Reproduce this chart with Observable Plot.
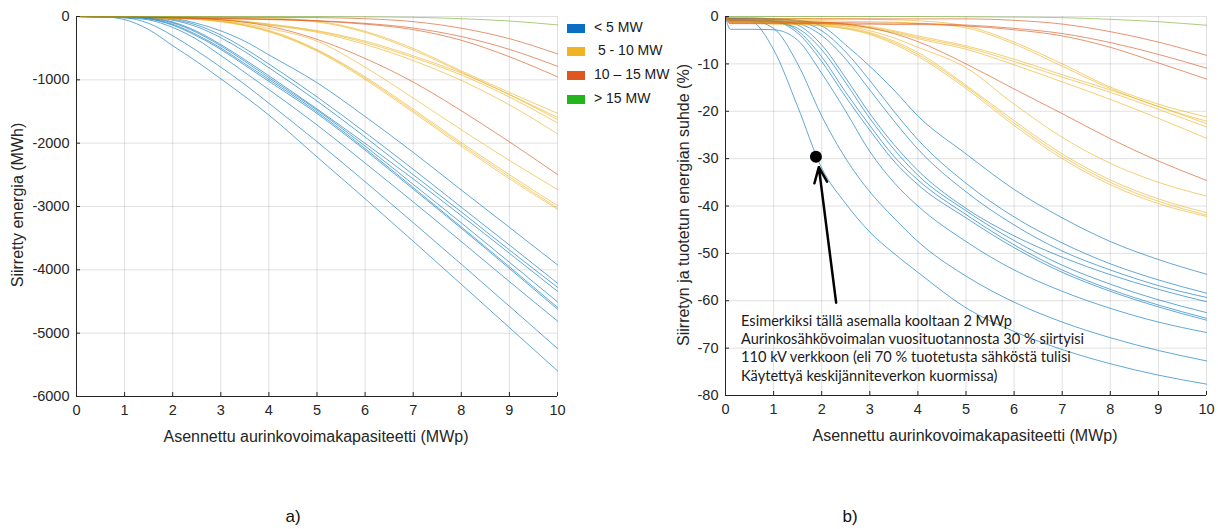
<!DOCTYPE html>
<html><head><meta charset="utf-8">
<script src="https://cdn.jsdelivr.net/npm/d3@7"></script>
<script src="https://cdn.jsdelivr.net/npm/@observablehq/plot@0.6"></script>
<style>
html,body{margin:0;padding:0;background:#fff;}
#root{position:relative;width:1218px;height:529px;overflow:hidden;font-family:"Liberation Sans",Arial,sans-serif;color:#262626;}
#root svg{position:absolute;top:0;}
.ylab{position:absolute;transform:translate(-50%,-50%) rotate(-90deg);white-space:nowrap;font-size:16px;}
.xlab{position:absolute;transform:translate(-50%,-50%);white-space:nowrap;font-size:16px;}
.sw{position:absolute;width:18px;height:9px;}
.lg{position:absolute;white-space:pre;font-size:14px;transform:translateY(-50%);color:#1a1a1a;}
.note{position:absolute;left:741px;top:312px;font-family:Lato,"Noto Sans",sans-serif;font-size:14.6px;line-height:18.2px;color:#1a1a1a;white-space:nowrap;}
.pl{position:absolute;transform:translate(-50%,-50%);font-size:17px;color:#111;}
</style></head><body><div id="root"></div>
<script>
// ---- data ----
const capacity = [0, 0.1, 0.5, 1, 1.5, 2, 2.5, 3, 3.5, 4, 5, 6, 7, 8, 9, 10]; // MWp
const xTicks = [0,1,2,3,4,5,6,7,8,9,10];
const energyTicks = [-6000,-5000,-4000,-3000,-2000,-1000,0];
const ratioTicks = [-80,-70,-60,-50,-40,-30,-20,-10,0];
const groups = ["< 5 MW", " 5 - 10 MW", "10 \u2013 15 MW", "> 15 MW"];
const lineColors = ["#0072BD", "#EDB120", "#D95319", "#77AC30"];
const swatchColors = ["#0A6FC2", "#F2B323", "#E0561F", "#22B51C"];

// Siirretty energia (MWh)
const energyUnder5 = [
 [0,-1,-3,-50,-206,-461,-712,-984,-1262,-1557,-2217,-2877,-3548,-4228,-4912,-5595],
 [0,-1,-3,-18,-108,-303,-541,-800,-1073,-1370,-1976,-2609,-3255,-3911,-4575,-5242],
 [0,-2,-10,-20,-54,-173,-361,-616,-883,-1154,-1712,-2314,-2927,-3553,-4185,-4809],
 [0,0,-3,-7,-38,-137,-307,-519,-770,-1024,-1532,-2111,-2725,-3345,-3978,-4622],
 [0,0,-2,-6,-32,-123,-288,-497,-745,-995,-1507,-2085,-2700,-3322,-3952,-4593],
 [0,-1,-4,-9,-27,-101,-252,-465,-707,-966,-1478,-2046,-2650,-3259,-3880,-4506],
 [0,0,-2,-5,-19,-87,-234,-443,-681,-937,-1460,-2003,-2564,-3144,-3738,-4340],
 [0,-1,-3,-7,-16,-58,-162,-335,-555,-808,-1334,-1903,-2498,-3086,-3686,-4276],
 [0,0,-2,-4,-11,-43,-135,-292,-505,-750,-1269,-1830,-2412,-3011,-3608,-4211],
 [0,0,-1,-4,-9,-29,-108,-227,-391,-606,-1045,-1579,-2145,-2740,-3329,-3922]
];
const energy5to10 = [
 [0,0,-1,-3,-4,-7,-9,-13,-18,-26,-72,-234,-505,-859,-1200,-1529],
 [0,0,-2,-5,-9,-13,-18,-24,-30,-40,-87,-251,-530,-877,-1233,-1593],
 [0,-1,-3,-6,-11,-17,-27,-45,-76,-118,-224,-389,-621,-894,-1233,-1629],
 [0,-1,-4,-8,-13,-20,-31,-50,-81,-127,-234,-411,-646,-923,-1272,-1680],
 [0,-1,-4,-9,-15,-23,-34,-54,-86,-136,-249,-441,-696,-1009,-1395,-1853],
 [0,-1,-4,-8,-13,-22,-36,-65,-114,-187,-389,-800,-1287,-1788,-2271,-2733],
 [0,-1,-4,-9,-15,-25,-41,-74,-131,-219,-523,-952,-1464,-1990,-2498,-2985],
 [0,-1,-5,-11,-17,-27,-45,-78,-139,-231,-534,-973,-1489,-2019,-2531,-3021],
 [0,-1,-5,-12,-18,-29,-47,-82,-146,-242,-548,-995,-1514,-2048,-2563,-3043]
];
const energy10to15 = [
 [0,0,-2,-4,-5,-7,-9,-11,-13,-14,-18,-35,-81,-185,-350,-591],
 [0,-1,-4,-9,-14,-19,-23,-30,-35,-43,-65,-108,-182,-317,-519,-786],
 [0,-1,-5,-11,-16,-22,-29,-35,-43,-49,-72,-121,-207,-375,-636,-952],
 [0,-1,-3,-7,-11,-17,-29,-52,-91,-153,-361,-662,-1035,-1488,-1979,-2495]
];
const energyOver15 = [
 [0,0,0,0,0,0,0,0,0,0,-2,-5,-13,-35,-71,-133]
];

// Siirretyn ja tuotetun energian suhde (%)
const ratioUnder5 = [
 [0,-0.8,-0.9,-7,-19,-32,-39.5,-45.5,-50,-54,-61.5,-66.5,-70.3,-73.3,-75.7,-77.6],
 [0,-0.7,-0.8,-2.5,-10,-21,-30,-37,-42.5,-47.5,-54.8,-60.3,-64.5,-67.8,-70.5,-72.7],
 [0,-2.7,-2.7,-2.8,-5,-12,-20,-28.5,-35,-40,-47.5,-53.5,-58,-61.6,-64.5,-66.7],
 [0,-0.6,-0.7,-1,-3.5,-9.5,-17,-24,-30.5,-35.5,-42.5,-48.8,-54,-58,-61.3,-64.1],
 [0,-0.5,-0.6,-0.9,-3,-8.5,-16,-23,-29.5,-34.5,-41.8,-48.2,-53.5,-57.6,-60.9,-63.7],
 [0,-1,-1,-1.2,-2.5,-7,-14,-21.5,-28,-33.5,-41,-47.3,-52.5,-56.5,-59.8,-62.5],
 [0,-0.5,-0.5,-0.7,-1.8,-6,-13,-20.5,-27,-32.5,-40.5,-46.3,-50.8,-54.5,-57.6,-60.2],
 [0,-0.8,-0.8,-1,-1.5,-4,-9,-15.5,-22,-28,-37,-44,-49.5,-53.5,-56.8,-59.3],
 [0,-0.4,-0.5,-0.6,-1,-3,-7.5,-13.5,-20,-26,-35.2,-42.3,-47.8,-52.2,-55.6,-58.4],
 [0,-0.3,-0.3,-0.5,-0.8,-2,-6,-10.5,-15.5,-21,-29,-36.5,-42.5,-47.5,-51.3,-54.4]
];
const ratio5to10 = [
 [0,-0.3,-0.3,-0.4,-0.4,-0.5,-0.5,-0.6,-0.7,-0.9,-2.0,-5.4,-10,-14.9,-18.5,-21.2],
 [0,-0.6,-0.6,-0.7,-0.8,-0.9,-1.0,-1.1,-1.2,-1.4,-2.4,-5.8,-10.5,-15.2,-19,-22.1],
 [0,-0.8,-0.8,-0.9,-1.0,-1.2,-1.5,-2.1,-3.0,-4.1,-6.2,-9.0,-12.3,-15.5,-19,-22.6],
 [0,-1.0,-1.0,-1.1,-1.2,-1.4,-1.7,-2.3,-3.2,-4.4,-6.5,-9.5,-12.8,-16.0,-19.6,-23.3],
 [0,-1.2,-1.2,-1.3,-1.4,-1.6,-1.9,-2.5,-3.4,-4.7,-6.9,-10.2,-13.8,-17.5,-21.5,-25.7],
 [0,-1.0,-1.0,-1.1,-1.2,-1.5,-2.0,-3.0,-4.5,-6.5,-10.8,-18.5,-25.5,-31,-35,-37.9],
 [0,-1.2,-1.2,-1.3,-1.4,-1.7,-2.3,-3.4,-5.2,-7.6,-14.5,-22,-29,-34.5,-38.5,-41.4],
 [0,-1.4,-1.4,-1.5,-1.6,-1.9,-2.5,-3.6,-5.5,-8.0,-14.8,-22.5,-29.5,-35,-39,-41.9],
 [0,-1.5,-1.5,-1.6,-1.7,-2.0,-2.6,-3.8,-5.8,-8.4,-15.2,-23,-30,-35.5,-39.5,-42.2]
];
const ratio10to15 = [
 [0,-0.5,-0.5,-0.5,-0.5,-0.5,-0.5,-0.5,-0.5,-0.5,-0.5,-0.8,-1.6,-3.2,-5.4,-8.2],
 [0,-1.2,-1.2,-1.2,-1.3,-1.3,-1.3,-1.4,-1.4,-1.5,-1.8,-2.5,-3.6,-5.5,-8.0,-10.9],
 [0,-1.5,-1.5,-1.5,-1.5,-1.5,-1.6,-1.6,-1.7,-1.7,-2.0,-2.8,-4.1,-6.5,-9.8,-13.2],
 [0,-0.9,-0.9,-1.0,-1.0,-1.2,-1.6,-2.4,-3.6,-5.3,-10,-15.3,-20.5,-25.8,-30.5,-34.6]
];
const ratioOver15 = [
 [0,0,0,0,0,0,0,0,0,0,-0.05,-0.12,-0.25,-0.6,-1.1,-1.85]
];

// example annotation (MWp, %)
const examplePoint = [{x: 1.88, y: -29.6}];
const exampleArrow = [{x1: 2.30, y1: -60.4, x2: 1.94, y2: -31.8}];
const noteLines = [
 "Esimerkiksi tällä asemalla kooltaan 2 MWp",
 "Aurinkosähkövoimalan vuosituotannosta 30 % siirtyisi",
 "110 kV verkkoon (eli 70 % tuotetusta sähköstä tulisi",
 "Käytettyä keskijänniteverkon kuormissa)"
];

// ---- build ----
function toRows(listByGroup) {
  const rows = [];
  listByGroup.forEach((list, g) => list.forEach((vals, i) => vals.forEach((v, j) =>
    rows.push({x: capacity[j], y: v, g, id: g + "-" + i, color: lineColors[g]}))));
  return rows;
}
const energyRows = toRows([energyUnder5, energy5to10, energy10to15, energyOver15]);
const ratioRows = toRows([ratioUnder5, ratio5to10, ratio10to15, ratioOver15]);

function panel(rows, yTicks, o, extra) {
  const xDom = [xTicks[0], xTicks[xTicks.length - 1]];
  const yDom = [yTicks[0], yTicks[yTicks.length - 1]];
  return Plot.plot({
    width: o.width, height: 460,
    marginLeft: o.ml, marginRight: o.mr, marginTop: 16, marginBottom: o.mb,
    style: {fontFamily: "'Liberation Sans', Arial, sans-serif", fontSize: "14.5px", color: "#262626", background: "transparent", overflow: "visible"},
    x: {type: "linear", domain: xDom, label: null},
    y: {type: "linear", domain: yDom, label: null},
    color: {type: "identity"},
    marks: [
      Plot.gridX(xTicks, {stroke: "#000", strokeOpacity: 0.12}),
      Plot.gridY(yTicks, {stroke: "#000", strokeOpacity: 0.12}),
      Plot.line(rows, {x: "x", y: "y", z: "id", stroke: "color", strokeWidth: 1, strokeOpacity: 0.62, curve: "monotone-x"}),
      ...extra,
      Plot.ruleX([xDom[0]], {stroke: "#262626"}),
      Plot.ruleY([yDom[0]], {stroke: "#262626"}),
      Plot.axisX(xTicks, {tickSize: -4, tickFormat: () => "", stroke: "#262626"}),
      Plot.axisY(yTicks, {tickSize: -4, tickFormat: () => "", stroke: "#262626"}),
      Plot.axisX(xTicks, {tickSize: 0, tickPadding: 8, tickFormat: d => String(d), fill: "#262626"}),
      Plot.axisY(yTicks, {tickSize: 0, tickPadding: 7, tickFormat: d => String(d), fill: "#262626"})
    ]
  });
}

const root = document.getElementById("root");
const left = panel(energyRows, energyTicks, {width: 580, ml: 76, mr: 23, mb: 64}, []);
left.style.left = "0px";
const right = panel(ratioRows, ratioTicks, {width: 578, ml: 85, mr: 12, mb: 65}, [
  Plot.arrow(exampleArrow, {x1: "x1", y1: "y1", x2: "x2", y2: "y2", stroke: "#000", strokeWidth: 2.5, headLength: 10, headAngle: 45}),
  Plot.dot(examplePoint, {x: "x", y: "y", r: 6, fill: "#000"})
]);
right.style.left = "640px";
root.appendChild(left);
root.appendChild(right);

function addDiv(cls, text, css) {
  const d = document.createElement("div");
  d.className = cls; d.textContent = text;
  Object.assign(d.style, css);
  root.appendChild(d);
  return d;
}
addDiv("ylab", "Siirretty energia (MWh)", {left: "18px", top: "205px"});
addDiv("ylab", "Siirretyn ja tuotetun energian suhde (%)", {left: "684px", top: "205px"});
addDiv("xlab", "Asennettu aurinkovoimakapasiteetti (MWp)", {left: "316px", top: "437px"});
addDiv("xlab", "Asennettu aurinkovoimakapasiteetti (MWp)", {left: "965px", top: "436px"});
const legendY = [28, 51, 75, 99];
groups.forEach((g, i) => {
  addDiv("sw", "", {left: "567px", top: (legendY[i] - 4.5) + "px", background: swatchColors[i]});
  addDiv("lg", g, {left: "594px", top: (legendY[i] - 1.5) + "px"});
});
const note = document.createElement("div");
note.className = "note";
note.innerHTML = noteLines.map(s => s.replace(/&/g, "&amp;")).join("<br>");
root.appendChild(note);
addDiv("pl", "a)", {left: "293px", top: "517px"});
addDiv("pl", "b)", {left: "850px", top: "517px"});
</script></body></html>
